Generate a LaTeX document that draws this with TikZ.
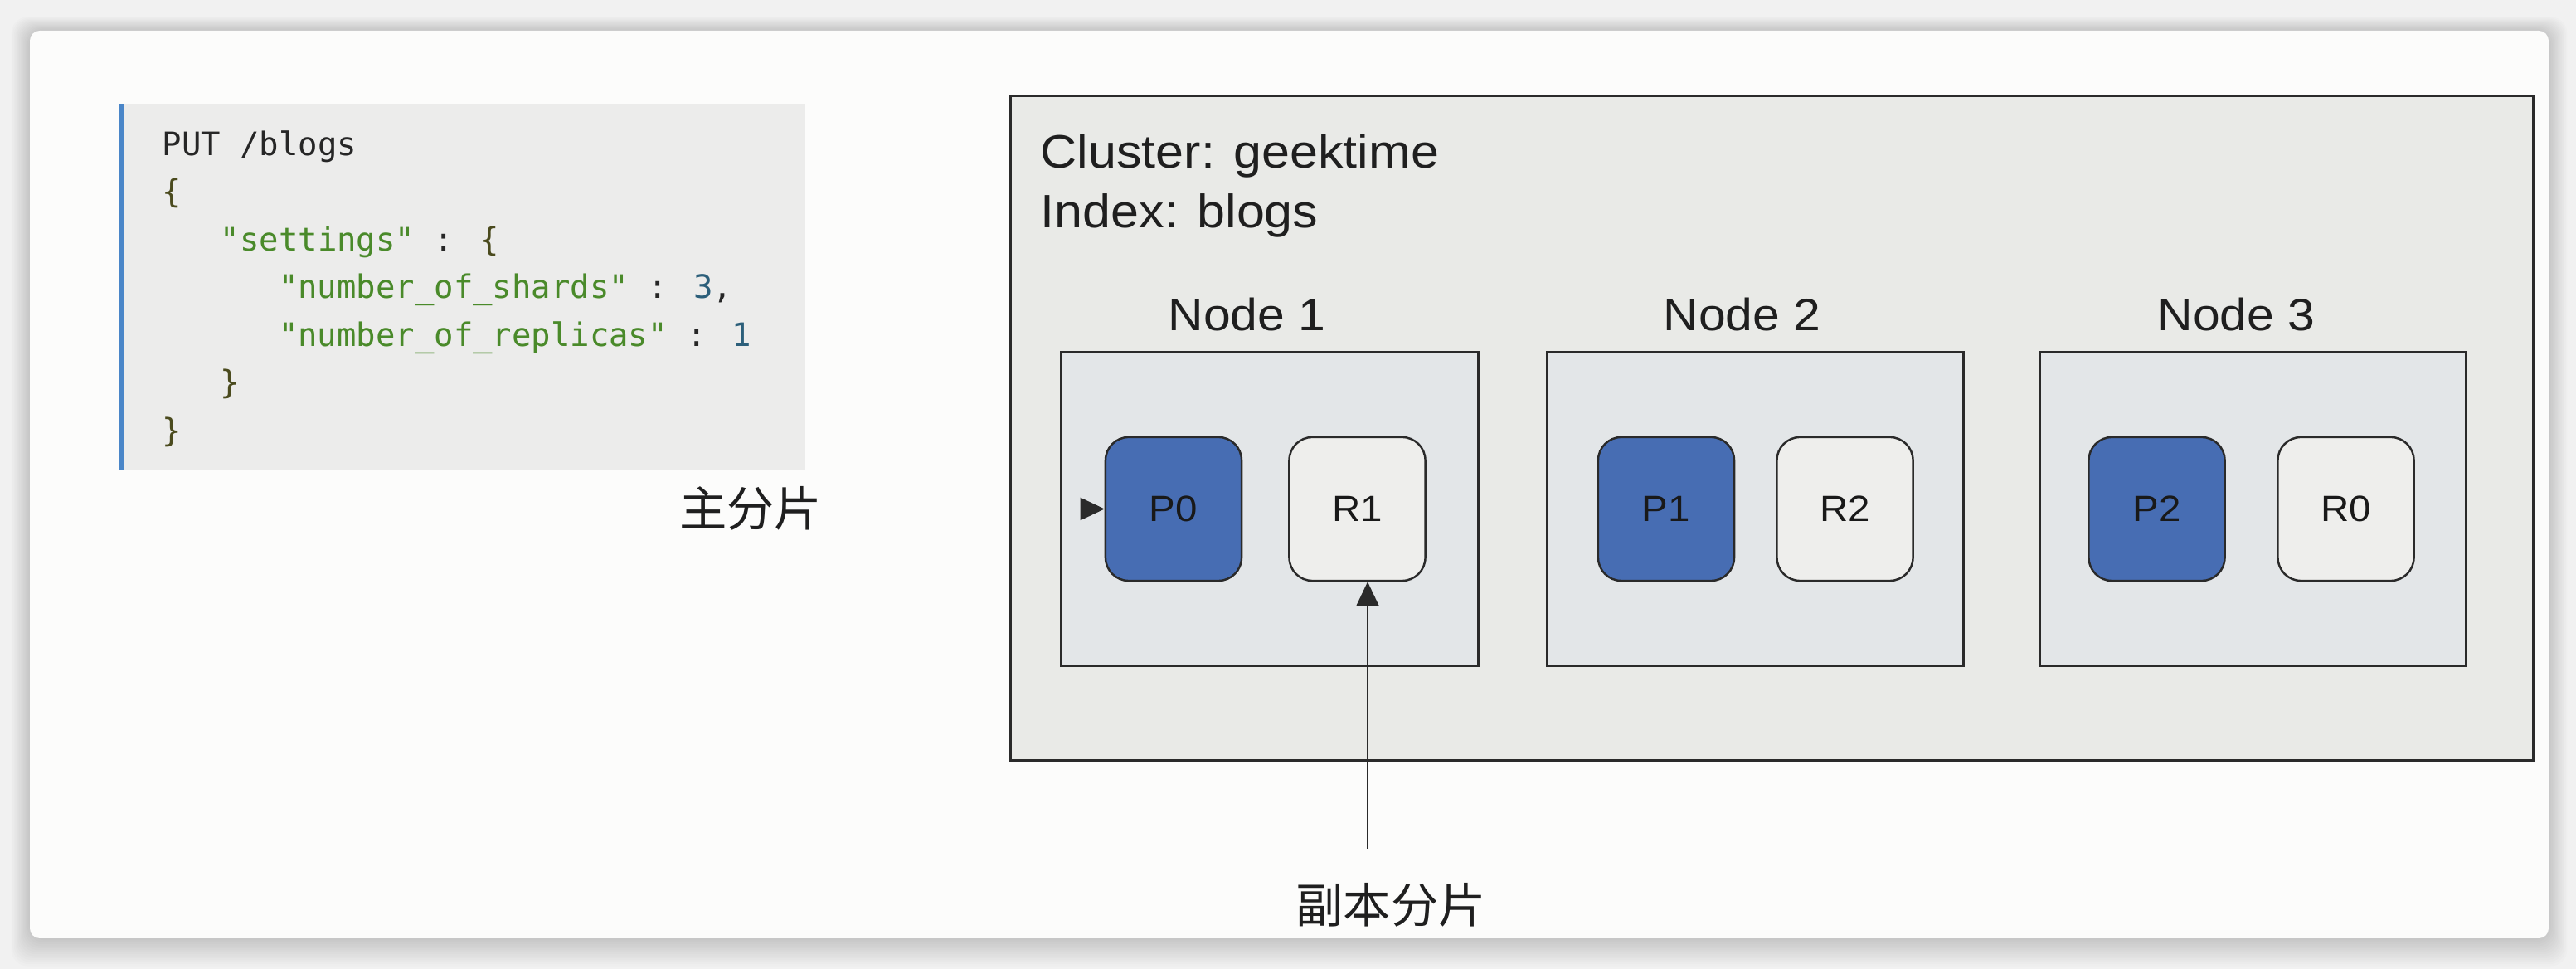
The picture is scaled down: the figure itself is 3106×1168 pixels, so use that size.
\documentclass[tikz,border=0pt]{standalone}
\usepackage{fontspec}
\usetikzlibrary{arrows.meta}
\newfontfamily\labfont[FakeStretch=1.08]{Liberation Sans}
\newfontfamily\codefont{DejaVu Sans Mono}
\newfontfamily\cjkfont{Noto Sans CJK SC}
\definecolor{pagebg}{HTML}{F1F1F1}
\definecolor{cardbg}{HTML}{FCFCFB}
\definecolor{codebg}{HTML}{ECECEB}
\definecolor{codebar}{HTML}{4A86C8}
\definecolor{codeplain}{HTML}{262626}
\definecolor{codebrace}{HTML}{4B4B1E}
\definecolor{codestr}{HTML}{4A8A2A}
\definecolor{codenum}{HTML}{2C5F7A}
\definecolor{clusterbg}{HTML}{E9EAE7}
\definecolor{hostbg}{HTML}{E3E6E8}
\definecolor{replbg}{HTML}{EEEEEC}
\definecolor{primbg}{HTML}{476DB3}
\definecolor{edge}{HTML}{2A2A2A}
\begin{document}
\begin{tikzpicture}[x=0.01cm,y=-0.01cm,
  codeline/.style={anchor=base west,inner sep=0pt,text=codeplain,
    font=\codefont\fontsize{11.07}{13}\selectfont},
  caption/.style={anchor=base west,inner sep=0pt,text=black!88,
    font=\labfont\fontsize{16.07}{19}\selectfont},
  hostlabel/.style={anchor=base west,inner sep=0pt,text=black!88,
    font=\labfont\fontsize{15.5}{18}\selectfont},
  hostbox/.style={draw=edge,line width=0.8pt,fill=hostbg,inner sep=0pt,
    minimum height=3.77cm},
  shard/.style={draw=edge,line width=0.7pt,rounded corners=2.8mm,inner sep=0pt,
    minimum width=1.64cm,minimum height=1.73cm,text=black!90,
    font=\labfont\fontsize{12.5}{15}\selectfont},
  primary/.style={shard,fill=primbg},
  replica/.style={shard,fill=replbg},
  cjklabel/.style={inner sep=0pt,text=black!88,
    font=\cjkfont\fontsize{16.3}{19}\selectfont},
  arr/.style={draw=edge,line width=0.55pt,-{Triangle[length=2.9mm,width=2.7mm]}}]

% page and card with a soft shadow
\useasboundingbox (0,0) rectangle (3106,1168);
\fill[pagebg] (0,0) rectangle (3106,1168);
\foreach \i in {1,...,14}
  \fill[black,opacity=0.012,rounded corners=2mm]
    (36-\i*1.6,37-\i*1.2) rectangle (3073+\i*1.6,1131+\i*2.4);
\fill[cardbg,rounded corners=1.2mm] (36,37) rectangle (3073,1131);

% request body
\fill[codebg] (144,125) rectangle (971,566);
\fill[codebar] (144,125) rectangle (150,566);
\node[codeline] (c1) at (195,187.5) {PUT /blogs};
\node[codeline] (c2) at (195,245) {\textcolor{codebrace}{\{}};
\node[codeline] (c3) at (265.2,302.5) {\textcolor{codestr}{"settings"} : \textcolor{codebrace}{\{}};
\node[codeline] (c4) at (335.4,360) {\textcolor{codestr}{"number\_of\_shards"} : \textcolor{codenum}{3},};
\node[codeline] (c5) at (335.4,417.5) {\textcolor{codestr}{"number\_of\_replicas"} : \textcolor{codenum}{1}};
\node[codeline] (c6) at (265.2,475) {\textcolor{codebrace}{\}}};
\node[codeline] (c7) at (195,532.5) {\textcolor{codebrace}{\}}};

% cluster
\node[draw=edge,line width=0.85pt,fill=clusterbg,inner sep=0pt,
  minimum width=18.35cm,minimum height=8.0cm] (cluster) at (2136.5,516) {};
\node[caption] (cname) at (1254,203) {Cluster: geektime};
\node[caption] (iname) at (1254,275) {Index: blogs};

% data nodes
\node[hostbox,minimum width=5.02cm] (n1) at (1531,613.5) {};
\node[hostbox,minimum width=5.01cm] (n2) at (2116.5,613.5) {};
\node[hostbox,minimum width=5.13cm] (n3) at (2716.5,613.5) {};
\node[hostlabel] (l1) at (1408,399) {Node 1};
\node[hostlabel] (l2) at (2005,399) {Node 2};
\node[hostlabel] (l3) at (2601,399) {Node 3};

% shards
\node[primary] (p0) at (1415,613.5) {P0};
\node[replica] (r1) at (1636.5,613.5) {R1};
\node[primary] (p1) at (2009,613.5) {P1};
\node[replica] (r2) at (2224.5,613.5) {R2};
\node[primary] (p2) at (2600.5,613.5) {P2};
\node[replica] (r0) at (2828.5,613.5) {R0};

% callouts
\node[cjklabel] (tprim) at (905,613) {主分片};
\node[cjklabel] (trepl) at (1677,1091) {副本分片};
\coordinate (a1) at (1086,613.5);
\coordinate (a2) at (1649,1023);
\draw[arr] (a1) -- (p0.west);
\draw[arr] (a2) -- (a2 |- r1.south);
\end{tikzpicture}
\end{document}
